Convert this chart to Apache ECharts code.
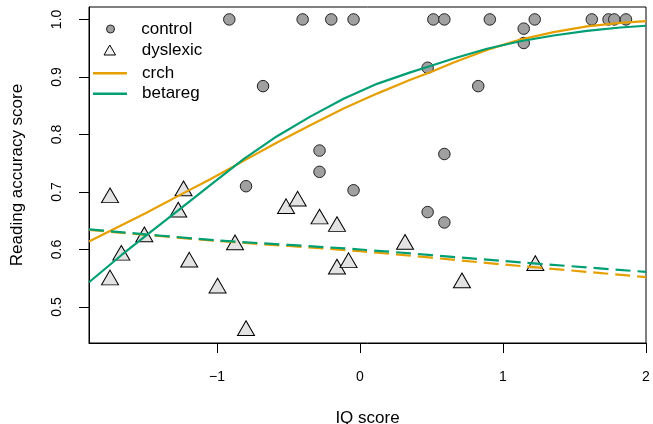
<!DOCTYPE html>
<html>
<head>
<meta charset="utf-8">
<script src="https://cdn.jsdelivr.net/npm/echarts@6/dist/echarts.min.js"></script>
<style>
  html, body { margin: 0; padding: 0; background: #fff; }
  #chart { width: 653px; height: 424px; }
</style>
</head>
<body>
<div id="chart"></div>
<script>
// ---- data ----
var controlIQ  = [-0.914, -0.401, -0.201, -0.045, 0.513, 0.590, 0.908, 1.222, 1.621, 1.738, 1.778, 1.860,
                  -0.678, 0.473, 0.827, 1.145, 1.145, -0.283, -0.283, 0.590, -0.797, -0.045, 0.473, 0.590];
var controlAcc = [1.000, 1.000, 1.000, 1.000, 1.000, 1.000, 1.000, 1.000, 1.000, 1.000, 1.000, 1.000,
                  0.884, 0.916, 0.884, 0.984, 0.959, 0.772, 0.735, 0.766, 0.710, 0.703, 0.665, 0.647];

var dyslexicIQ  = [-1.748, -1.234, -1.271, -1.508, -1.669, -1.748, -1.194, -0.874, -0.996, -0.797,
                   -0.517, -0.436, -0.283, -0.161, -0.161, -0.080, 0.315, 0.713, 1.226];
var dyslexicAcc = [0.690, 0.702, 0.665, 0.622, 0.590, 0.547, 0.578, 0.608, 0.533, 0.459,
                   0.671, 0.684, 0.653, 0.640, 0.566, 0.577, 0.609, 0.542, 0.572];

// fitted curves (control = solid, dyslexic = dashed)
var betaregControlX = [-1.895, -1.669, -1.508, -1.271, -1.047, -0.814, -0.580, -0.348, -0.115, 0.119, 0.352, 0.492, 0.655, 0.888, 1.121, 1.354, 1.587, 1.820, 2.0];
var betaregControlY = [0.543, 0.590, 0.622, 0.668, 0.712, 0.757, 0.797, 0.831, 0.862, 0.888, 0.908, 0.919, 0.932, 0.949, 0.962, 0.972, 0.980, 0.986, 0.989];

var crchControlX = [-1.895, -1.500, -1.234, -1.047, -0.814, -0.580, -0.348, -0.115, 0.119, 0.352, 0.492, 0.655, 0.888, 1.121, 1.354, 1.587, 1.820, 2.0];
var crchControlY = [0.614, 0.663, 0.698, 0.722, 0.754, 0.786, 0.816, 0.845, 0.871, 0.895, 0.908, 0.925, 0.947, 0.965, 0.978, 0.988, 0.994, 0.997];

var dysX            = [-1.895, -1.0, 0.0, 1.0, 2.0];
var betaregDyslexY  = [0.635, 0.616, 0.600, 0.580, 0.561];
var crchDyslexY     = [0.634, 0.615, 0.597, 0.574, 0.552];

var xTicks = [-1, 0, 1, 2];
var yTicks = [0.5, 0.6, 0.7, 0.8, 0.9, 1.0];

// ---- build ----
function zip(xs, ys) { return xs.map(function (x, i) { return [x, ys[i]]; }); }

var ORANGE = '#E69F00', GREEN = '#009E73';
var FONT = 'Liberation Sans, Arial, Helvetica, sans-serif';

var chart = echarts.init(document.getElementById('chart'), null, { renderer: 'canvas' });

var triPath = 'path://M0,0 L10,17.32 L-10,17.32 Z';
var legendText = function (pad) {
  return { fontSize: 17, lineHeight: 17, color: '#000', fontFamily: FONT, padding: [0, 0, 0, pad] };
};

chart.setOption({
  animation: false,
  backgroundColor: '#fff',
  textStyle: { fontFamily: FONT, color: '#000' },
  grid: { left: 89, right: 7, top: 7, bottom: 81, show: true, borderColor: '#000', borderWidth: 1,
          backgroundColor: 'transparent', containLabel: false, outerBoundsMode: 'none' },
  legend: [
    { data: [{ name: 'control', icon: 'circle', itemStyle: { color: '#a0a0a0', borderColor: '#222', borderWidth: 1 } }],
      orient: 'vertical', left: 106, top: 20.5, padding: 0,
      itemWidth: 34, itemHeight: 8, selectedMode: false, textStyle: legendText(8.7) },
    { data: [{ name: 'dyslexic', icon: triPath, itemStyle: { color: '#f2f2f2', borderColor: '#000', borderWidth: 1 } }],
      orient: 'vertical', left: 103.5, top: 41.5, padding: 0,
      itemWidth: 34, itemHeight: 10, selectedMode: false, textStyle: legendText(10) },
    { data: [{ name: 'crch', icon: 'rect', itemStyle: { color: ORANGE, borderWidth: 0 } },
             { name: 'betareg', icon: 'rect', itemStyle: { color: GREEN, borderWidth: 0 } }],
      orient: 'vertical', left: 93, top: 64.7, padding: 0, itemGap: 3.6,
      itemWidth: 34, itemHeight: 2.4, selectedMode: false, textStyle: legendText(10) }
  ],
  xAxis: {
    type: 'value', min: -1.895, max: 2.0, position: 'bottom',
    name: 'IQ score', nameLocation: 'middle', nameGap: 67,
    nameTextStyle: { fontSize: 17, color: '#000', fontFamily: FONT, lineHeight: 17 },
    axisLine: { show: true, onZero: false, lineStyle: { color: '#000', width: 1 } },
    axisTick: { show: true, inside: false, length: 10, customValues: xTicks, lineStyle: { color: '#000', width: 1 } },
    axisLabel: { show: true, customValues: xTicks, margin: 27, fontSize: 14, color: '#000', fontFamily: FONT,
      formatter: function (v) { return String(v).replace('-', '\u2212'); } },
    splitLine: { show: false }
  },
  yAxis: {
    type: 'value', min: 0.4374, max: 1.0216, position: 'left',
    name: 'Reading accuracy score', nameLocation: 'middle', nameGap: 63, nameRotate: 90,
    nameTextStyle: { fontSize: 17, color: '#000', fontFamily: FONT, lineHeight: 17 },
    axisLine: { show: true, onZero: false, lineStyle: { color: '#000', width: 1 } },
    axisTick: { show: true, inside: false, length: 10, customValues: yTicks, lineStyle: { color: '#000', width: 1 } },
    axisLabel: { show: true, customValues: yTicks, rotate: 90, margin: 25, fontSize: 14, color: '#000', fontFamily: FONT,
      formatter: function (v) { return v.toFixed(1); } },
    splitLine: { show: false }
  },
  series: [
    { name: 'control', type: 'scatter', data: zip(controlIQ, controlAcc), z: 2,
      symbol: 'circle', symbolSize: 11.5,
      itemStyle: { color: '#a0a0a0', borderColor: '#222', borderWidth: 1, opacity: 1 } },
    { name: 'dyslexic', type: 'scatter', data: zip(dyslexicIQ, dyslexicAcc), z: 2,
      symbol: 'triangle', symbolSize: [17, 14.7], symbolOffset: [0, -2.45],
      itemStyle: { color: '#e3e3e3', borderColor: '#000', borderWidth: 1, opacity: 1 } },
    { name: 'crch', type: 'line', data: zip(crchControlX, crchControlY), z: 3,
      symbol: 'none', smooth: false, color: ORANGE,
      lineStyle: { color: ORANGE, width: 2.2 } },
    { name: 'betareg', type: 'line', data: zip(betaregControlX, betaregControlY), z: 4,
      symbol: 'none', smooth: false, color: GREEN,
      lineStyle: { color: GREEN, width: 2.2 } },
    { name: 'crch', type: 'line', data: zip(dysX, crchDyslexY), z: 3,
      symbol: 'none', smooth: 0.3, color: ORANGE,
      lineStyle: { color: ORANGE, width: 2.2, type: [15, 7] } },
    { name: 'betareg', type: 'line', data: zip(dysX, betaregDyslexY), z: 4,
      symbol: 'none', smooth: 0.3, color: GREEN,
      lineStyle: { color: GREEN, width: 2.2, type: [15, 7] } }
  ]
});
</script>
</body>
</html>
